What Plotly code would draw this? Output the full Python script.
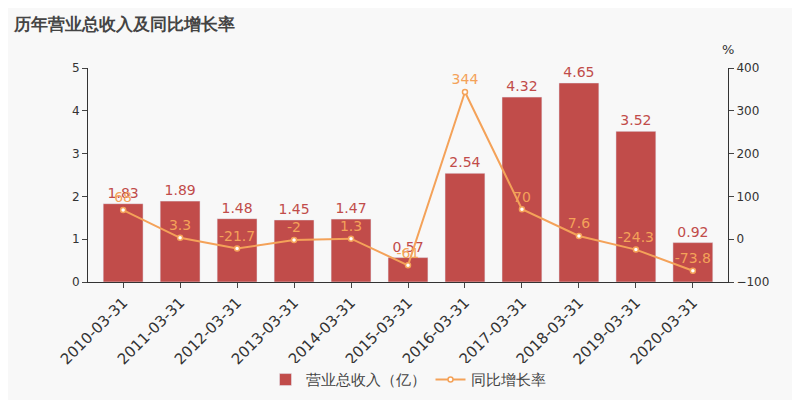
import plotly.graph_objects as go

dates = ["2010-03-31", "2011-03-31", "2012-03-31", "2013-03-31", "2014-03-31", "2015-03-31",
         "2016-03-31", "2017-03-31", "2018-03-31", "2019-03-31", "2020-03-31"]
revenue = [1.83, 1.89, 1.48, 1.45, 1.47, 0.57, 2.54, 4.32, 4.65, 3.52, 0.92]
growth = [68, 3.3, -21.7, -2, 1.3, -61, 344, 70, 7.6, -24.3, -73.8]

bar_color = "#c14c4a"
line_color = "#f4a259"

fig = go.Figure()
fig.add_trace(go.Bar(
    x=dates, y=revenue, name="营业总收入（亿）", marker_color=bar_color,
    text=[str(v) for v in revenue], textposition="outside",
    textfont=dict(color=bar_color, size=14), cliponaxis=False,
))
fig.add_trace(go.Scatter(
    x=dates, y=growth, name="同比增长率", yaxis="y2", mode="lines+markers+text",
    line=dict(color=line_color, width=2),
    marker=dict(color="white", size=5, line=dict(color=line_color, width=1.5)),
    text=[str(v) for v in growth], textposition="top center",
    textfont=dict(color=line_color, size=14), cliponaxis=False,
))

fig.update_layout(
    width=800, height=400,
    paper_bgcolor="#f8f8f8", plot_bgcolor="#f8f8f8",
    font=dict(family="DejaVu Sans", color="#333"),
    margin=dict(l=80, r=80, t=60, b=115),
    title=dict(text="<b>历年营业总收入及同比增长率</b>", x=0.008, y=0.975,
               font=dict(size=17, color="#444")),
    showlegend=True,
    legend=dict(orientation="h", x=0.5, xanchor="center", y=-0.38, yanchor="top",
                font=dict(size=15, color="#444")),
    bargap=0.3,
    xaxis=dict(type="category", tickangle=-45, tickfont=dict(size=15), showline=True,
               linecolor="#333", ticks="outside", automargin=False),
    yaxis=dict(range=[0, 5], dtick=1, showgrid=False, showline=True, linecolor="#333",
               ticks="outside", zeroline=False, tickfont=dict(size=12), automargin=False),
    yaxis2=dict(range=[-100, 400], dtick=100, overlaying="y", side="right",
                showgrid=False, showline=True, linecolor="#333", ticks="outside",
                zeroline=False, tickfont=dict(size=12), automargin=False),
    annotations=[dict(text="%", xref="paper", yref="paper", x=1.0, y=1.04,
                      xanchor="center", yanchor="bottom", showarrow=False,
                      font=dict(size=13))],
)

fig.write_html("out.html")
